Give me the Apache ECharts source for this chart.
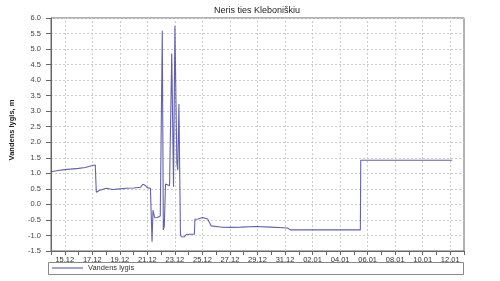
<!DOCTYPE html>
<html>
<head>
<meta charset="utf-8">
<script src="https://cdn.jsdelivr.net/npm/echarts@6/dist/echarts.min.js"></script>
<style>html,body{margin:0;padding:0;background:#fff}#c{width:500px;height:281px}</style>
</head>
<body>
<div id="c"></div>
<script>
// ---- data ----
const chartTitle = 'Neris ties Kleboniškiu';
const yAxisName = 'Vandens lygis, m';
const seriesName = 'Vandens lygis';
const times = [
  '2022-12-14 00:00','2022-12-14 12:00','2022-12-15 00:00','2022-12-16 00:00','2022-12-16 12:00',
  '2022-12-17 00:00','2022-12-17 05:10','2022-12-17 07:00','2022-12-17 12:00','2022-12-18 00:00',
  '2022-12-18 12:00','2022-12-19 00:00','2022-12-19 12:00','2022-12-20 00:00','2022-12-20 12:00',
  '2022-12-20 16:00','2022-12-20 20:00','2022-12-21 00:00','2022-12-21 05:20','2022-12-21 08:10',
  '2022-12-21 09:50','2022-12-21 12:40','2022-12-21 17:20','2022-12-21 22:30','2022-12-22 02:00',
  '2022-12-22 03:50','2022-12-22 05:30','2022-12-22 07:40','2022-12-22 14:40','2022-12-22 18:30',
  '2022-12-22 21:35','2022-12-23 00:00','2022-12-23 03:25','2022-12-23 05:00','2022-12-23 07:00',
  '2022-12-23 09:40','2022-12-23 11:00','2022-12-23 16:20','2022-12-23 19:40','2022-12-24 02:30',
  '2022-12-24 10:00','2022-12-24 10:50','2022-12-24 16:20','2022-12-25 00:30','2022-12-25 09:10',
  '2022-12-25 15:00','2022-12-26 08:00','2022-12-27 01:30','2022-12-27 19:00','2022-12-28 21:00',
  '2022-12-29 23:00','2022-12-30 21:20','2022-12-31 04:20','2022-12-31 09:20','2023-01-05 11:20',
  '2023-01-05 12:00','2023-01-12 03:30'
];
const levels = [
  1.05,1.09,1.12,1.16,1.19,
  1.25,1.27,0.39,0.45,0.52,
  0.48,0.50,0.52,0.53,0.55,
  0.65,0.62,0.54,0.52,-1.20,
  -0.18,-0.43,-0.42,-0.37,5.59,
  -0.82,-0.70,0.66,0.60,4.86,
  0.57,5.74,1.33,1.10,3.23,
  -0.95,-1.04,-1.05,-0.97,-0.96,
  -0.96,-0.48,-0.47,-0.42,-0.47,
  -0.69,-0.73,-0.74,-0.73,-0.71,
  -0.73,-0.75,-0.76,-0.82,-0.82,
  1.42,1.42
];
const xLabelDates = [
  '2022-12-15','2022-12-17','2022-12-19','2022-12-21','2022-12-23','2022-12-25',
  '2022-12-27','2022-12-29','2022-12-31','2023-01-02','2023-01-04','2023-01-06',
  '2023-01-08','2023-01-10','2023-01-12'
];
const xMin = '2022-12-14 00:00';
const xMax = '2023-01-13 00:00';
const yMin = -1.5, yMax = 6.0, yStep = 0.5;

// ---- build ----
const DAY = 86400000;
const toTs = s => { const p = s.split(/[- :]/).map(Number); return new Date(p[0], p[1] - 1, p[2], p[3] || 0, p[4] || 0).getTime(); };
const minTs = toTs(xMin), maxTs = toTs(xMax);
const labelTs = xLabelDates.map(toTs);
const dailyTs = [];
for (let t = minTs; t <= maxTs + 1000; t += DAY) dailyTs.push(t);
const seriesData = times.map((t, i) => [toTs(t), levels[i]]);
const pad2 = n => (n < 10 ? '0' : '') + n;
const fmtDate = v => { const d = new Date(v); return pad2(d.getDate()) + '.' + pad2(d.getMonth() + 1); };

const FONT = 'Liberation Sans';
const GRID_TOP = 18, GRID_BOTTOM = 30, H = 281;
const chart = echarts.init(document.getElementById('c'), null, {renderer: 'canvas'});
chart.setOption({
  animation: false,
  backgroundColor: '#fff',
  textStyle: {fontFamily: FONT},
  title: {
    text: chartTitle, left: 214, top: 6, padding: 0,
    textStyle: {fontFamily: FONT, fontSize: 9, fontWeight: 'normal', color: '#222'}
  },
  grid: {left: 49, right: 36, top: GRID_TOP, bottom: GRID_BOTTOM, show: true, borderColor: '#666', borderWidth: 1, backgroundColor: '#fff'},
  legend: {
    left: 52, top: 264, padding: 0, icon: 'rect', itemWidth: 31, itemHeight: 1,
    textStyle: {fontFamily: FONT, fontSize: 7.5, color: '#333'},
    data: [seriesName]
  },
  graphic: [{
    type: 'rect', z: -1, silent: true,
    shape: {x: 48.5, y: 262.5, width: 415, height: 12},
    style: {fill: '#fff', stroke: '#888', lineWidth: 1}
  }],
  xAxis: [{
    type: 'value', min: minTs, max: maxTs, position: 'bottom',
    axisLine: {onZero: false, lineStyle: {color: '#666'}},
    axisTick: {show: true, length: 4, customValues: labelTs, lineStyle: {color: '#666'}},
    axisLabel: {customValues: labelTs, formatter: v => fmtDate(v), fontFamily: FONT, fontSize: 7.5, color: '#333', margin: 5, hideOverlap: false},
    splitLine: {show: false}
  }, {
    type: 'value', min: minTs, max: maxTs, position: 'bottom', gridIndex: 0,
    axisLine: {show: false, onZero: false},
    axisTick: {show: true, length: 4, customValues: dailyTs, lineStyle: {color: '#666'}},
    axisLabel: {show: false},
    splitLine: {show: false}
  }, {
    type: 'value', min: minTs, max: maxTs, position: 'bottom', gridIndex: 0, z: 0,
    axisLine: {show: false, onZero: false},
    axisTick: {show: true, inside: true, length: H - GRID_TOP - GRID_BOTTOM, customValues: labelTs,
      lineStyle: {color: '#ccc', type: [2, 2], width: 1}},
    axisLabel: {show: false},
    splitLine: {show: false}
  }],
  yAxis: {
    type: 'value', min: yMin, max: yMax, interval: yStep,
    name: yAxisName, nameLocation: 'middle', nameRotate: 90, nameGap: 35,
    nameTextStyle: {fontFamily: FONT, fontSize: 7.5, fontWeight: 'bold', color: '#222', padding: [0, 0, 0, 9]},
    axisLine: {show: true, onZero: false, lineStyle: {color: '#666'}},
    axisTick: {show: true, length: 5, lineStyle: {color: '#666'}},
    axisLabel: {formatter: v => v.toFixed(1), fontFamily: FONT, fontSize: 7.5, color: '#444', margin: 10},
    splitLine: {show: true, lineStyle: {color: '#ccc', type: [2, 2], width: 1}}
  },
  series: [{
    name: seriesName, type: 'line', xAxisIndex: 0, data: seriesData,
    showSymbol: false, symbol: 'none',
    itemStyle: {color: '#4646a0'},
    lineStyle: {color: '#4646a0', width: 1.1, opacity: 0.85}
  }]
});
</script>
</body>
</html>
